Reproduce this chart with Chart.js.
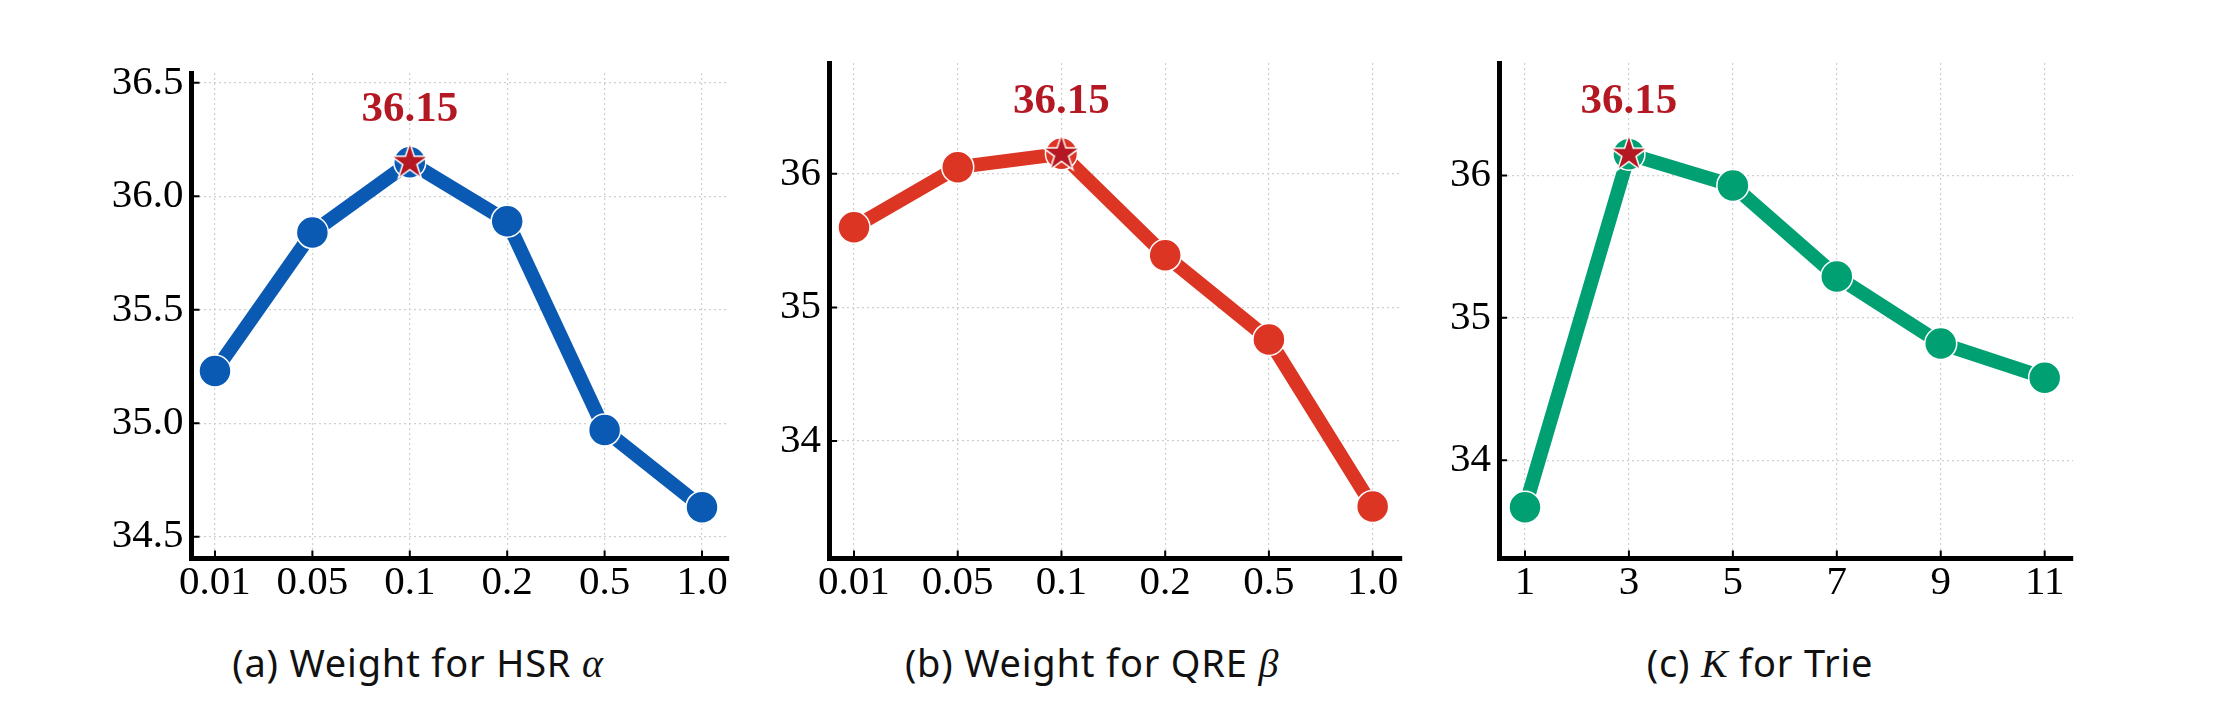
<!DOCTYPE html>
<html>
<head>
<meta charset="utf-8">
<script src="https://cdn.jsdelivr.net/npm/chart.js@4.4.1/dist/chart.umd.min.js"></script>
<style>
  html, body { margin: 0; padding: 0; background: #fff; }
  body { width: 2225px; height: 725px; position: relative; overflow: hidden; }
  canvas { position: absolute; top: 0; }
  .cap {
    position: absolute; top: 643px; width: 700px; margin-left: -350px;
    text-align: center; font-family: "Noto Sans", Lato, sans-serif; font-size: 38px;
    letter-spacing: 0.8px; line-height: 1; color: #111; white-space: nowrap;
  }
  .cap i { font-family: "Liberation Serif", serif; font-size: 40px; }
</style>
</head>
<body>
<canvas id="chartA" width="760" height="620" style="left:0px"></canvas>
<canvas id="chartB" width="740" height="620" style="left:700px"></canvas>
<canvas id="chartC" width="760" height="620" style="left:1380px"></canvas>
<div class="cap" style="left:418px">(a) Weight for HSR <i>α</i></div>
<div class="cap" style="left:1092px">(b) Weight for QRE <i>β</i></div>
<div class="cap" style="left:1760px">(c) <i>K</i> for Trie</div>

<script>
// datos
const alphaLabels = ["0.01", "0.05", "0.1", "0.2", "0.5", "1.0"];
const alphaScores = [35.23, 35.84, 36.15, 35.89, 34.97, 34.63];

const betaLabels = ["0.01", "0.05", "0.1", "0.2", "0.5", "1.0"];
const betaScores = [35.60, 36.05, 36.15, 35.39, 34.76, 33.51];

const kValues = [1, 3, 5, 7, 9, 11];
const kLabels = ["1", "3", "5", "7", "9", "11"];
const kScores = [33.67, 36.15, 35.93, 35.29, 34.82, 34.58];

const yTicksA = [34.5, 35.0, 35.5, 36.0, 36.5];
const yTicksB = [34, 35, 36];
const yTicksC = [34, 35, 36];

const tickFont = { family: "'Liberation Serif', 'Times New Roman', serif", size: 41 };

// estrella rellena para el mejor punto
function makeStar(size, fill) {
    const c = document.createElement("canvas");
    c.width = size; c.height = size;
    const ctx = c.getContext("2d");
    const cx = size / 2, cy = size / 2, R = size / 2 - 2.5, r = R * 0.382;
    ctx.beginPath();
    for (let i = 0; i < 10; i++) {
        const rad = i % 2 === 0 ? R : r;
        const a = -Math.PI / 2 + i * Math.PI / 5;
        const px = cx + rad * Math.cos(a), py = cy + rad * Math.sin(a);
        if (i === 0) ctx.moveTo(px, py); else ctx.lineTo(px, py);
    }
    ctx.closePath();
    ctx.fillStyle = fill;
    ctx.fill();
    ctx.lineWidth = 1.5;
    ctx.strokeStyle = "#fff";
    ctx.stroke();
    return c;
}
const starImg = makeStar(44, "#b41923");

// marcas de eje hacia adentro
const innerTicks = {
    id: "innerTicks",
    beforeDatasetsDraw(chart) {
        const { ctx, chartArea, scales } = chart;
        ctx.save();
        ctx.strokeStyle = "#000";
        ctx.lineWidth = 2;
        ctx.beginPath();
        scales.x.ticks.forEach(t => {
            const x = scales.x.getPixelForValue(t.value);
            ctx.moveTo(x, chartArea.bottom);
            ctx.lineTo(x, chartArea.bottom - 8);
        });
        scales.y.ticks.forEach(t => {
            const y = scales.y.getPixelForValue(t.value);
            ctx.moveTo(chartArea.left, y);
            ctx.lineTo(chartArea.left + 8, y);
        });
        ctx.stroke();
        ctx.restore();
    }
};

// etiqueta del valor máximo
const peakLabel = {
    id: "peakLabel",
    afterDatasetsDraw(chart, args, opts) {
        const el = chart.getDatasetMeta(0).data[0];
        if (!el) return;
        const ctx = chart.ctx;
        ctx.save();
        ctx.font = "bold 43px 'Liberation Serif', 'Times New Roman', serif";
        ctx.fillStyle = "#b41923";
        ctx.textAlign = "center";
        ctx.textBaseline = "middle";
        ctx.fillText(opts.text, el.x, el.y - 52);
        ctx.restore();
    }
};

function buildPanel(id, xs, xLabels, ys, color, yTicks, yDec, box) {
    const best = Math.max(...ys);
    const bi = ys.indexOf(best);
    const pts = xs.map((x, i) => ({ x: x, y: ys[i] }));

    new Chart(document.getElementById(id), {
        type: "line",
        data: {
            datasets: [
                {
                    data: [{ x: xs[bi], y: best }],
                    pointStyle: starImg,
                    pointRadius: 18,
                    showLine: false,
                    order: 0
                },
                {
                    data: pts,
                    borderColor: color,
                    borderWidth: 14,
                    pointRadius: 16,
                    pointBackgroundColor: color,
                    pointBorderColor: "#fff",
                    pointBorderWidth: 1.5,
                    tension: 0,
                    fill: false,
                    order: 1
                }
            ]
        },
        options: {
            responsive: false,
            animation: false,
            events: [],
            clip: false,
            layout: { padding: { left: 0, top: box.top, right: box.right, bottom: 11.5 } },
            plugins: {
                legend: { display: false },
                tooltip: { enabled: false },
                peakLabel: { text: best.toFixed(2) }
            },
            scales: {
                x: {
                    type: "linear",
                    bounds: "data",
                    min: box.xMin,
                    max: box.xMax,
                    afterBuildTicks: s => { s.ticks = xs.map(v => ({ value: v })); },
                    afterFit: s => { s.height = 50; s.paddingLeft = 0; s.paddingRight = 0; },
                    ticks: {
                        callback: (v, i) => xLabels[i],
                        font: tickFont,
                        color: "#000",
                        padding: 0,
                        maxRotation: 0,
                        autoSkip: false
                    },
                    grid: { color: "#cfcfcf", lineWidth: 1.2, drawTicks: false },
                    border: { display: true, color: "#000", width: 5, dash: [2, 3] }
                },
                y: {
                    type: "linear",
                    bounds: "data",
                    min: box.yMin,
                    max: box.yMax,
                    afterBuildTicks: s => { s.ticks = yTicks.map(v => ({ value: v })); },
                    afterFit: s => { s.width = box.left; s.paddingTop = 0; s.paddingBottom = 0; },
                    ticks: {
                        callback: v => Number(v).toFixed(yDec),
                        font: tickFont,
                        color: "#000",
                        padding: 8
                    },
                    grid: { color: "#cfcfcf", lineWidth: 1.2, drawTicks: false },
                    border: { display: true, color: "#000", width: 5, dash: [2, 3] }
                }
            }
        },
        plugins: [innerTicks, peakLabel]
    });
}

buildPanel("chartA", [0, 1, 2, 3, 4, 5], alphaLabels, alphaScores, "#0a5ab4", yTicksA, 1,
    { left: 191.5, top: 73, right: 31, xMin: -0.241, xMax: 5.277, yMin: 34.404, yMax: 36.543 });
buildPanel("chartB", [0, 1, 2, 3, 4, 5], betaLabels, betaScores, "#dd3523", yTicksB, 0,
    { left: 129, top: 63, right: 38, xMin: -0.241, xMax: 5.283, yMin: 33.12, yMax: 36.83 });
buildPanel("chartC", kValues, kLabels, kScores, "#00a073", yTicksC, 0,
    { left: 119, top: 63, right: 67, xMin: 0.5, xMax: 11.545, yMin: 33.31, yMax: 36.79 });
</script>
</body>
</html>
